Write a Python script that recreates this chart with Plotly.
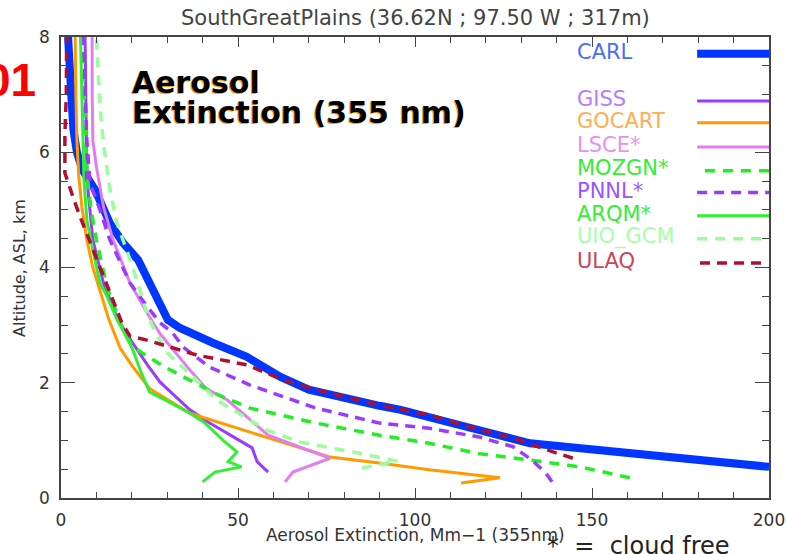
import plotly.graph_objects as go

# ---------------- data ----------------
carl_x = [200, 175, 150, 132.5, 118, 104, 96, 90, 80, 70, 62, 57, 52.5, 43, 33.6, 30.2, 27.4, 24.6, 21.8,
          17.5, 13.8, 9.6, 8, 6, 4.5, 3.5, 3, 2.5, 2]
carl_y = [0.54, 0.69, 0.83, 0.95, 1.18, 1.42, 1.53, 1.6, 1.74, 1.88, 2.1, 2.3, 2.45, 2.69, 2.95, 3.09, 3.44, 3.78,
          4.13, 4.43, 4.77, 5.35, 5.5, 5.7, 6.0, 6.4, 6.9, 7.4, 8.0]

giss_x = [58.5, 55.4, 54, 48.6, 42, 36.4, 28, 24.5, 21.5, 18.5, 15.8, 12, 10.5, 9, 7.6, 7.2, 7, 6.8]
giss_y = [0.45, 0.63, 0.87, 1.06, 1.3, 1.53, 2.01, 2.3, 2.57, 2.85, 3.14, 3.73, 4.1, 4.48, 5.35, 6.0, 7.0, 8.0]

gocart_x = [113, 124, 104, 91, 76, 58, 48, 36.4, 25, 20, 16.7, 13.5, 11, 9, 7.3, 5.9, 5, 4.5, 4.2, 4]
gocart_y = [0.26, 0.35, 0.49, 0.6, 0.71, 1.06, 1.25, 1.47, 1.9, 2.3, 2.6, 3.1, 3.6, 4.0, 4.48, 5.05, 5.6, 6.2, 7.0, 8.0]

lsce_x = [63.3, 65.5, 76, 58.5, 47, 41, 36, 31.6, 28, 25, 22, 19.5, 14.7, 12, 10, 9, 8.8, 8.8]
lsce_y = [0.28, 0.45, 0.69, 1.09, 1.7, 1.9, 2.25, 2.57, 2.85, 3.14, 3.45, 3.73, 4.48, 5.05, 5.75, 6.2, 7.0, 8.0]

mozgn_x = [160.7, 146.6, 132.5, 118, 104, 90, 72, 53.4, 44, 36.4, 30, 26, 20.3, 17, 13, 10, 8.5, 7.3, 7, 6.5, 6]
mozgn_y = [0.35, 0.54, 0.66, 0.77, 0.95, 1.09, 1.3, 1.56, 1.8, 2.05, 2.25, 2.4, 2.62, 3.0, 3.66, 4.48, 5.0, 5.64,
           6.2, 7.0, 8.0]

pnnl_x = [138.7, 137, 133, 127.7, 118, 104, 90, 72, 53.4, 42, 34.5, 31.6, 28, 24, 19.5, 13.8, 11, 8.2, 7.3, 6.8, 6.3]
pnnl_y = [0.28, 0.43, 0.66, 0.89, 1.06, 1.21, 1.3, 1.56, 1.96, 2.27, 2.62, 2.86, 3.04, 3.35, 3.73, 4.48, 5.0, 5.47,
          6.2, 7.0, 8.0]

arqm_x = [40, 43.5, 51, 47.2, 49.7, 45.8, 40.7, 36.4, 31, 25, 22.5, 20.3, 18, 15.8, 13, 11, 9, 7.3, 6.5, 6.2, 5.8, 5.5]
arqm_y = [0.28, 0.45, 0.54, 0.63, 0.8, 1.0, 1.3, 1.47, 1.65, 1.84, 2.2, 2.57, 2.85, 3.1, 3.5, 3.73, 4.3, 4.83, 5.5,
          6.2, 7.0, 8.0]

uio_x = [85, 95, 84, 67.5, 58, 44, 37.3, 30, 26.5, 24.3, 20.3, 15.8, 13.8, 12, 11, 10]
uio_y = [0.52, 0.64, 0.78, 0.97, 1.18, 1.7, 2.1, 2.52, 2.9, 3.2, 4.0, 4.77, 5.35, 6.15, 6.8, 8.0]

ulaq_x = [144.6, 139, 127.7, 115.5, 104.2, 90.1, 75, 62.7, 52.5, 38.4, 24.3, 19.5, 17.2, 13.8, 9, 5.4, 3.4, 1.1,
          1.1, 1.5, 1.6]
ulaq_y = [0.69, 0.8, 1.04, 1.23, 1.44, 1.61, 1.83, 2.05, 2.31, 2.48, 2.74, 2.81, 3.04, 3.56, 4.3, 4.88,
          5.22, 5.64, 6.3, 7.0, 8.0]

series_names = ["CARL", "GISS", "GOCART", "LSCE*", "MOZGN*", "PNNL*", "ARQM*", "UIO_GCM", "ULAQ"]
x_ticks = [0, 50, 100, 150, 200]
y_ticks = [0, 2, 4, 6, 8]

# ---------------- styles ----------------
styles = {
    "CARL":    dict(color="#0036ff", width=8, dash="solid", text="#4a6cff"),
    "GISS":    dict(color="#9a3cff", width=3, dash="solid", text="#b57cff"),
    "GOCART":  dict(color="#ff9a00", width=3, dash="solid", text="#ffae50"),
    "LSCE*":   dict(color="#e07ef0", width=3, dash="solid", text="#e890f0"),
    "MOZGN*":  dict(color="#22ee22", width=3.5, dash="10px,8px", text="#33ee33"),
    "PNNL*":   dict(color="#9a3cff", width=3.5, dash="10px,7px", text="#9a55ff"),
    "ARQM*":   dict(color="#33ee33", width=3, dash="solid", text="#33ee33"),
    "UIO_GCM": dict(color="#99ff99", width=3.5, dash="10px,8px", text="#a8ffa8"),
    "ULAQ":    dict(color="#b01030", width=3.5, dash="10px,7px", text="#cc4458"),
}
data = {
    "CARL": (carl_x, carl_y), "GISS": (giss_x, giss_y), "GOCART": (gocart_x, gocart_y),
    "LSCE*": (lsce_x, lsce_y), "MOZGN*": (mozgn_x, mozgn_y), "PNNL*": (pnnl_x, pnnl_y),
    "ARQM*": (arqm_x, arqm_y), "UIO_GCM": (uio_x, uio_y), "ULAQ": (ulaq_x, ulaq_y),
}

fig = go.Figure()
for name in series_names:
    xs, ys = data[name]
    s = styles[name]
    fig.add_trace(go.Scatter(x=xs, y=ys, mode="lines", name=name, showlegend=False,
                             line=dict(color=s["color"], width=s["width"], dash=s["dash"])))

# custom legend (text left, line sample right)
leg_text_y = [7.74, 6.93, 6.55, 6.13, 5.73, 5.33, 4.93, 4.53, 4.11]
leg_line_y = [7.71, 6.89, 6.51, 6.09, 5.68, 5.30, 4.90, 4.50, 4.08]
leg_x0 = [179.7, 179.7, 179.7, 179.7, 181.9, 179.7, 179.7, 179.7, 180.5]
leg_x1 = [200, 200, 200, 200, 200, 200, 200, 198, 199]
shapes = []
annotations = []
for i, name in enumerate(series_names):
    s = styles[name]
    shapes.append(dict(type="line", xref="x", yref="y", x0=leg_x0[i], x1=leg_x1[i],
                       y0=leg_line_y[i], y1=leg_line_y[i],
                       line=dict(color=s["color"], width=s["width"], dash=s["dash"])))
    annotations.append(dict(x=145.2, y=leg_text_y[i], xref="x", yref="y", text=name, showarrow=False,
                            xanchor="left", yanchor="middle",
                            font=dict(family="DejaVu Sans", size=21, color=s["text"])))

annotations += [
    dict(x=0.5, y=1.041, xref="paper", yref="paper", showarrow=False, xanchor="center", yanchor="middle",
         text="SouthGreatPlains (36.62N ; 97.50 W ; 317m)",
         font=dict(family="DejaVu Sans", size=21, color="#444444")),
    dict(x=0.5, y=-0.080, xref="paper", yref="paper", showarrow=False, xanchor="center", yanchor="middle",
         text="Aerosol Extinction, Mm−1 (355nm)",
         font=dict(family="DejaVu Sans", size=17, color="#333333")),
    dict(x=-0.058, y=0.499, xref="paper", yref="paper", showarrow=False, xanchor="center", yanchor="middle",
         text="Altitude, ASL, km", textangle=-90,
         font=dict(family="DejaVu Sans", size=16, color="#333333")),
    dict(x=0.0975, y=0.902, xref="paper", yref="paper", showarrow=False, xanchor="left", yanchor="middle",
         text="Aerosol",
         font=dict(family="DejaVu Sans", size=30, color="#000000", weight="bold",
                   shadow="-1px 1px 0px #f0a020")),
    dict(x=0.0975, y=0.837, xref="paper", yref="paper", showarrow=False, xanchor="left", yanchor="middle",
         text="Extinction (355 nm)",
         font=dict(family="DejaVu Sans", size=30, color="#000000", weight="bold",
                   shadow="-1px 1px 0px #f0a020")),
    dict(x=-0.0325, y=0.907, xref="paper", yref="paper", showarrow=False, xanchor="right", yanchor="middle",
         text="01", font=dict(family="Liberation Sans", size=46, color="#ff0000", weight="bold")),
    dict(x=(545 - 61) / 708, y=-0.104, xref="paper", yref="paper", showarrow=False, xanchor="left",
         yanchor="middle", text="*\u00a0\u00a0=\u00a0\u00a0cloud free",
         font=dict(family="DejaVu Sans", size=24, color="#222222")),
]

axis_common = dict(showline=True, linecolor="#444444", linewidth=1.5, mirror="ticks", ticks="inside",
                   tickcolor="#444444", tickwidth=1.2, showgrid=False, zeroline=False, automargin=False,
                   tickfont=dict(family="DejaVu Sans", size=17, color="#333333"))

fig.update_layout(
    width=786, height=554,
    margin=dict(l=61, r=17, t=37, b=56, autoexpand=False),
    plot_bgcolor="white", paper_bgcolor="white",
    xaxis=dict(range=[0, 200], tickvals=x_ticks, ticklen=10, ticklabelstandoff=6,
               minor=dict(dtick=10, ticklen=6, ticks="inside", tickcolor="#444444", showgrid=False),
               **axis_common),
    yaxis=dict(range=[0, 8], tickvals=y_ticks, ticklen=14, ticklabelstandoff=6,
               minor=dict(dtick=0.5, ticklen=7, ticks="inside", tickcolor="#444444", showgrid=False),
               **axis_common),
    shapes=shapes,
    annotations=annotations,
)

fig.write_html("out.html")
